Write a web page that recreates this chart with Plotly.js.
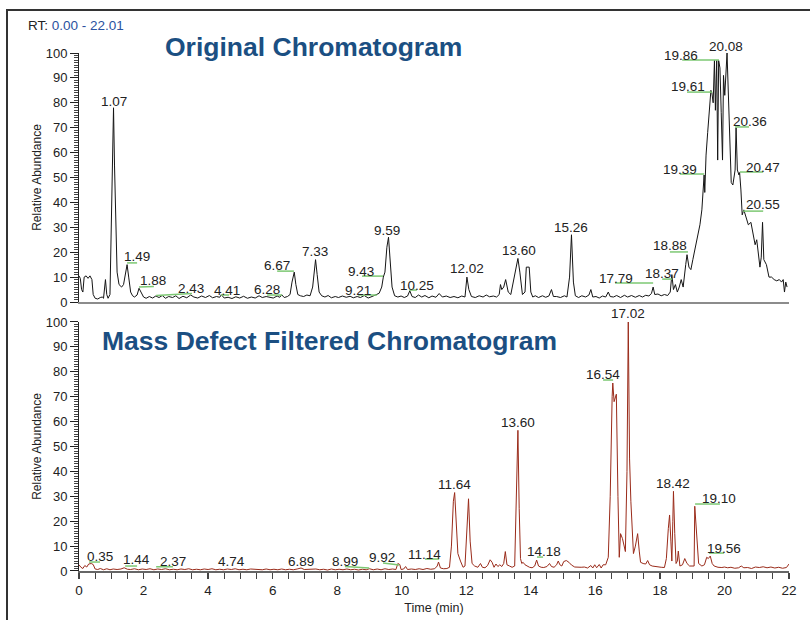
<!DOCTYPE html>
<html>
<head>
<meta charset="utf-8">
<script src="https://cdn.plot.ly/plotly-3.0.1.min.js"></script>
<style>html,body{margin:0;padding:0;background:#fff;}#chart{width:810px;height:620px;}</style>
</head>
<body>
<div id="chart"></div>
<script>
// ---------- Original chromatogram (time in min, relative abundance %) ----------
const origTime = [0.00,0.04,0.08,0.12,0.16,0.22,0.28,0.34,0.40,0.44,0.50,0.58,0.66,0.72,0.76,0.82,0.86,0.90,0.96,1.00,1.04,1.07,1.10,1.14,1.18,1.24,1.32,1.38,1.44,1.49,1.54,1.60,1.66,1.72,1.80,1.86,1.92,2.00,2.08,2.18,2.28,2.38,2.48,2.58,2.68,2.78,2.90,3.00,3.10,3.22,3.34,3.46,3.56,3.68,3.80,3.92,4.04,4.14,4.26,4.36,4.41,4.50,4.62,4.74,4.86,4.98,5.10,5.22,5.34,5.46,5.58,5.68,5.80,5.92,6.02,6.14,6.22,6.28,6.36,6.46,6.54,6.60,6.67,6.72,6.78,6.86,6.96,7.06,7.16,7.24,7.29,7.33,7.38,7.44,7.52,7.62,7.72,7.82,7.94,8.04,8.16,8.28,8.40,8.50,8.62,8.72,8.84,8.96,9.08,9.21,9.30,9.38,9.43,9.48,9.54,9.59,9.64,9.70,9.78,9.88,9.98,10.08,10.18,10.25,10.32,10.42,10.52,10.62,10.72,10.84,10.94,11.06,11.16,11.26,11.38,11.50,11.62,11.74,11.86,11.96,12.02,12.08,12.16,12.28,12.40,12.52,12.62,12.72,12.84,12.94,13.02,13.06,13.10,13.16,13.22,13.30,13.38,13.46,13.55,13.60,13.66,13.74,13.82,13.86,13.95,14.00,14.06,14.14,14.24,14.36,14.46,14.56,14.64,14.70,14.80,14.92,15.04,15.12,15.20,15.26,15.32,15.38,15.48,15.58,15.70,15.80,15.86,15.92,16.02,16.12,16.22,16.32,16.40,16.46,16.56,16.66,16.78,16.90,17.00,17.12,17.24,17.36,17.46,17.56,17.66,17.74,17.79,17.84,17.94,18.04,18.14,18.24,18.32,18.37,18.42,18.48,18.54,18.60,18.66,18.72,18.80,18.84,18.90,18.96,19.02,19.10,19.16,19.24,19.30,19.35,19.37,19.39,19.43,19.48,19.53,19.58,19.61,19.65,19.69,19.72,19.76,19.79,19.82,19.86,19.90,19.94,19.97,20.01,20.08,20.12,20.16,20.21,20.26,20.30,20.33,20.36,20.40,20.45,20.47,20.51,20.55,20.60,20.66,20.74,20.82,20.88,20.95,21.00,21.06,21.10,21.14,21.18,21.22,21.30,21.38,21.46,21.54,21.62,21.70,21.77,21.82,21.86,21.90,21.94];
const origAbund = [10.5,9.5,5,4,10,10.5,9.5,10.5,9,3,1.5,1.2,1.8,2,1.5,9,3,1.5,3,30,65,78,55,25,12,7,6,7,11,15,10,4,2.5,2,2.8,5.5,4,2,1.5,2.2,1.6,2.4,1.8,2.6,1.5,2.2,1.8,2.5,1.4,2.3,1.7,2.8,2,1.6,2.4,1.8,2.6,1.7,2.2,1.9,2.9,1.6,1.9,1.4,2.1,1.6,2.3,1.5,2,1.6,2.5,1.8,2.2,2,1.6,2.4,1.9,2.9,1.8,2.2,3,8,12,7,3,2.5,2.2,2.8,2.5,6,14,17,11,4,2.5,2,2.6,1.7,2.2,1.8,2.4,1.9,2.3,1.7,2.2,1.8,2.6,1.6,2.2,3,3.5,6,10,12,22,26,18,6,2.5,2,2.4,1.8,2.4,4.5,2.2,1.8,2.8,2,2.6,1.7,2.4,1.9,3.4,2,2.4,1.8,2.2,1.7,2.4,2,10,5,2.2,1.8,2.5,2,2.8,2.1,2.4,2,3,7,5,6,9,4,3,8,15,17.5,12,3,4,14,14,4,2,2.5,1.8,2.5,1.9,2.4,5,2.2,2.2,1.8,2.5,2,10,27,8,2.5,1.8,2.5,2,2.8,5,2,2.2,1.6,2.4,2,4,2.2,2,2.6,1.8,2.7,2,2.6,1.9,2.6,2,2.7,2.4,3.5,6,3,3.2,2.5,3,2.6,4,11,5,7,4,6,9,6,15,19,14,13,17,22,25,31,37,45,51,44,59,68,76,85,84,80,97,77,97,57,97,94,76,57,91,83,100,85,66,48,47,52,53,70,53,51,52,45,35,37,34,31,32,27,23,25,17,14,18,32,17,15,10,10,9,8.5,9,8,9,4,8,6];

// ---------- Mass defect filtered chromatogram ----------
const mdfTime = [0.00,0.06,0.12,0.18,0.24,0.30,0.38,0.44,0.50,0.58,0.66,0.76,0.86,0.96,1.06,1.18,1.30,1.40,1.50,1.60,1.72,1.84,1.96,2.08,2.20,2.32,2.44,2.56,2.68,2.80,2.92,3.04,3.16,3.28,3.40,3.52,3.64,3.76,3.88,4.00,4.12,4.24,4.36,4.48,4.60,4.72,4.84,4.96,5.08,5.20,5.32,5.44,5.56,5.68,5.80,5.92,6.04,6.16,6.28,6.40,6.52,6.64,6.76,6.88,6.98,7.10,7.22,7.34,7.46,7.58,7.70,7.82,7.94,8.06,8.18,8.30,8.42,8.54,8.66,8.78,8.90,9.00,9.12,9.24,9.36,9.48,9.60,9.72,9.82,9.88,9.94,9.98,10.06,10.12,10.18,10.30,10.42,10.54,10.66,10.78,10.90,11.02,11.10,11.14,11.20,11.30,11.40,11.48,11.54,11.60,11.64,11.68,11.74,11.82,11.90,11.96,12.02,12.07,12.12,12.18,12.26,12.36,12.44,12.50,12.58,12.66,12.74,12.80,12.86,12.92,12.98,13.04,13.10,13.16,13.21,13.26,13.34,13.42,13.50,13.56,13.60,13.64,13.68,13.72,13.76,13.82,13.88,13.96,14.04,14.12,14.18,14.24,14.32,14.40,14.50,14.58,14.64,14.72,14.80,14.85,14.90,14.96,15.02,15.10,15.18,15.26,15.36,15.46,15.56,15.66,15.76,15.86,15.92,15.98,16.04,16.12,16.18,16.24,16.32,16.40,16.46,16.52,16.54,16.58,16.65,16.70,16.74,16.78,16.84,16.93,16.98,17.02,17.06,17.10,17.14,17.18,17.24,17.31,17.36,17.40,17.48,17.56,17.62,17.68,17.76,17.84,17.94,18.04,18.14,18.20,18.26,18.30,18.34,18.37,18.40,18.42,18.46,18.50,18.54,18.57,18.62,18.70,18.77,18.84,18.92,19.00,19.06,19.08,19.14,19.20,19.30,19.38,19.45,19.50,19.56,19.62,19.68,19.80,19.92,20.00,20.10,20.20,20.32,20.44,20.52,20.60,20.72,20.84,20.96,21.08,21.20,21.32,21.44,21.56,21.68,21.80,21.92,22.00];
const mdfAbund = [2.5,1.5,1,2.2,1.6,2.8,3,2.6,0.8,0.6,1,0.5,0.9,0.5,0.8,0.6,0.8,1.3,0.7,0.6,0.9,0.5,0.8,0.6,0.9,0.5,0.8,0.6,0.9,0.5,0.7,0.5,0.8,0.6,0.9,0.5,0.7,0.5,0.8,0.6,0.9,0.5,0.7,0.5,0.8,0.6,0.9,0.5,0.7,0.5,0.8,0.6,0.7,0.5,0.8,0.5,0.7,0.5,0.8,0.5,0.7,0.5,0.8,1.2,0.6,0.7,0.5,0.8,0.5,0.7,0.4,0.8,0.5,0.7,0.5,0.8,0.5,0.7,0.4,0.7,0.5,0.9,0.5,0.8,0.5,0.9,0.6,0.8,0.6,3,2.6,0.6,0.8,1.8,0.6,0.8,0.6,0.9,0.6,1,0.7,0.9,2,3.6,1.2,0.9,1,1.5,10,28,31.5,20,7,4,1.5,2,15,29,12,3,2,1.5,3,1.5,1.3,2.2,4.5,3.5,1.5,2.8,1.8,2.5,1.8,3,7.8,2.5,2,1.5,2,30,56.5,25,5,3,3.5,2.5,2,1.5,1.3,2,4.4,2,1.5,1.4,1.8,3,1.8,1.5,2.5,4,2.5,2,3.8,4.2,3.5,2.4,1.6,1.4,1.5,1.6,1.2,2.2,1.2,2.5,1.3,2.6,1.2,2.5,2.5,5.5,30,70,75.5,68,71,30,5.5,15,13,7.8,40,100,45,28,15,7,10,15,8,3.5,3,2.8,4.2,2.5,2,1.8,1.6,1.5,1.4,5,17,22.5,12,4,20,32,15,3,4,8,2,2.5,5,3,2,2,2,26,12,3,2,2.5,5.5,5,6,3,2,1.5,1.4,1.6,1.3,1.5,1.1,1.3,2,1.3,1.4,1,1.6,1.4,1.7,1.3,1.6,1.2,1.5,1.1,1.4,2.8];

// ---------- Peak labels (text, label centre time, label centre level) ----------
const origLabels = ["1.07","1.49","1.88","2.43","4.41","6.28","6.67","7.33","9.21","9.43","9.59","10.25","12.02","13.60","15.26","17.79","18.37","18.88","19.39","19.61","19.86","20.08","20.36","20.47","20.55"];
const origLabelT = [1.08,1.80,2.29,3.47,4.59,5.83,6.14,7.31,8.65,8.74,9.54,10.47,12.02,13.63,15.25,16.64,18.07,18.31,18.62,18.87,18.66,20.05,20.79,21.20,21.20];
const origLabelV = [80.7,18.1,8.8,5.6,4.8,5.2,14.5,20.1,4.8,12.4,28.9,6.8,13.3,20.5,30.1,9.6,11.6,22.5,53.4,86.7,98.8,102.8,72.3,54.2,39.0];
const mdfLabels = ["0.35","1.44","2.37","4.74","6.89","8.99","9.92","11.14","11.64","13.60","14.18","16.54","17.02","18.42","19.10","19.56"];
const mdfLabelT = [0.65,1.77,2.91,4.74,6.88,8.24,9.39,10.69,11.65,13.60,14.41,16.24,17.01,18.41,19.83,19.99];
const mdfLabelV = [6.0,4.8,4.0,4.0,4.0,4.0,5.6,6.8,34.9,59.8,8.0,79.1,103.6,35.3,29.3,9.2];

// ---------- Green integration marks (start time, end time, start level, end level) ----------
const origMarkT1 = [1.49,1.86,2.39,4.40,5.83,6.14,8.77,8.65,10.23,16.61,18.07,18.31,18.62,18.84,18.69,20.33,20.48,20.58];
const origMarkT2 = [1.80,2.32,3.50,4.65,6.29,6.66,9.42,9.23,10.47,17.79,18.38,18.87,19.37,19.62,19.83,20.76,21.20,21.20];
const origMarkV1 = [15.7,6.0,2.6,2.8,2.8,12.4,10.4,2.8,4.8,7.6,9.2,20.1,51.4,84.3,97.2,70.3,52.2,36.5];
const origMarkV2 = [15.7,6.2,3.4,2.8,2.8,12.4,10.4,2.8,4.8,7.6,9.2,20.1,51.4,84.3,97.2,70.3,52.2,36.5];
const mdfMarkT1 = [0.31,1.43,2.39,8.24,9.42,10.72,14.19,16.24,19.09,19.52];
const mdfMarkT2 = [0.65,1.80,2.91,8.99,9.92,11.16,14.38,16.55,19.86,19.99];
const mdfMarkV1 = [3.6,2.0,1.7,1.8,3.2,4.8,5.6,76.7,26.9,7.2];
const mdfMarkV2 = [3.6,2.0,1.7,1.2,2.4,4.8,5.6,76.7,26.9,7.2];

const yTicks = [0,10,20,30,40,50,60,70,80,90,100];
const xTicks = [0,2,4,6,8,10,12,14,16,18,20,22];

// ---------- build ----------
const FONT = "Liberation Sans, Arial, Helvetica, sans-serif";
const TITLE_BLUE = "#1b4f82";
const GREEN = "#7dc873";

function segs(t1, t2, v1, v2) {
  const xs = [], ys = [];
  for (let i = 0; i < t1.length; i++) { xs.push(t1[i], t2[i], null); ys.push(v1[i], v2[i], null); }
  return {xs, ys};
}
const g1 = segs(origMarkT1, origMarkT2, origMarkV1, origMarkV2);
const g2 = segs(mdfMarkT1, mdfMarkT2, mdfMarkV1, mdfMarkV2);

const traces = [
  {x: origTime, y: origAbund, xaxis: 'x', yaxis: 'y', mode: 'lines', line: {color: '#151515', width: 1}, hoverinfo: 'skip'},
  {x: g1.xs, y: g1.ys, xaxis: 'x', yaxis: 'y', mode: 'lines', line: {color: GREEN, width: 1.5}, hoverinfo: 'skip', connectgaps: false},
  {x: mdfTime, y: mdfAbund, xaxis: 'x2', yaxis: 'y2', mode: 'lines', line: {color: '#9a2b1a', width: 1}, hoverinfo: 'skip'},
  {x: g2.xs, y: g2.ys, xaxis: 'x2', yaxis: 'y2', mode: 'lines', line: {color: GREEN, width: 1.5}, hoverinfo: 'skip', connectgaps: false}
];

const PLOT_H = 620 - 53 - 49;
const topDom = [0.5193, 1];
const botDom = [0, 0.4807];
const pxPerUnit = (topDom[1] - topDom[0]) * PLOT_H / 100;

const annotations = [];
function addLabels(txt, ts, vs, xr, yr) {
  for (let i = 0; i < txt.length; i++) {
    const over = vs[i] > 100 ? (vs[i] - 100) * pxPerUnit : 0;
    annotations.push({
      x: ts[i], y: Math.min(vs[i], 100), xref: xr, yref: yr, yshift: over,
      text: txt[i], showarrow: false, xanchor: 'center', yanchor: 'middle',
      font: {family: FONT, size: 13.5, color: '#222'}
    });
  }
}
addLabels(origLabels, origLabelT, origLabelV, 'x', 'y');
addLabels(mdfLabels, mdfLabelT, mdfLabelV, 'x2', 'y2');

annotations.push({
  xref: 'paper', yref: 'paper', x: (163 - 79) / 710, y: (571 - 47) / PLOT_H,
  xanchor: 'left', yanchor: 'middle', showarrow: false,
  text: '<b>Original Chromatogram</b>', font: {family: FONT, size: 26.5, color: TITLE_BLUE}
});
annotations.push({
  xref: 'paper', yref: 'paper', x: (100 - 79) / 710, y: (571 - 341) / PLOT_H,
  xanchor: 'left', yanchor: 'middle', showarrow: false,
  text: '<b>Mass Defect Filtered Chromatogram</b>', font: {family: FONT, size: 26.5, color: TITLE_BLUE}
});
annotations.push({
  xref: 'paper', yref: 'paper', x: (26 - 79) / 710, y: (571 - 26) / PLOT_H,
  xanchor: 'left', yanchor: 'middle', showarrow: false,
  text: 'RT: <span style="color:#2a52a0">0.00 - 22.01</span>', font: {family: FONT, size: 13.5, color: '#222'}
});

function yAxis(dom, anchor) {
  return {
    domain: dom, anchor: anchor, range: [0, 100], fixedrange: true,
    tickmode: 'array', tickvals: yTicks, ticks: 'outside', ticklen: 8, tickwidth: 1, tickcolor: '#222',
    minor: {dtick: 1, ticks: 'outside', ticklen: 4, tickwidth: 1, tickcolor: '#444', showgrid: false},
    showline: true, linecolor: '#222', linewidth: 1, showgrid: false, zeroline: false,
    tickfont: {family: FONT, size: 13, color: '#222'},
    title: {text: 'Relative Abundance', font: {family: FONT, size: 12, color: '#222'}, standoff: 1}
  };
}

const layout = {
  width: 810, height: 620,
  margin: {l: 79, r: 21, t: 53, b: 49},
  paper_bgcolor: '#fff', plot_bgcolor: '#fff',
  showlegend: false,
  font: {family: FONT, color: '#222'},
  xaxis: {
    domain: [0, 1], anchor: 'y', range: [0, 22], showticklabels: false, ticks: '',
    showline: true, linecolor: '#8c8c8c', linewidth: 2, showgrid: false, zeroline: false, fixedrange: true
  },
  yaxis: yAxis(topDom, 'x'),
  xaxis2: {
    domain: [0, 1], anchor: 'y2', range: [0, 22], fixedrange: true,
    tickmode: 'array', tickvals: xTicks, ticks: 'outside', ticklen: 6, tickwidth: 1.3, tickcolor: '#444',
    minor: {dtick: 0.5, ticks: 'outside', ticklen: 6, tickwidth: 1, tickcolor: '#444', showgrid: false},
    showline: true, linecolor: '#666', linewidth: 1.5, showgrid: false, zeroline: false,
    tickfont: {family: FONT, size: 13.5, color: '#222'},
    title: {text: 'Time (min)', font: {family: FONT, size: 12.5, color: '#222'}, standoff: 6}
  },
  yaxis2: yAxis(botDom, 'x2'),
  annotations: annotations,
  shapes: [{
    type: 'rect', xref: 'paper', yref: 'paper',
    x0: (7 - 79) / 710, x1: (830 - 79) / 710, y0: (571 - 640) / PLOT_H, y1: (571 - 10) / PLOT_H,
    line: {color: '#333', width: 2}, fillcolor: 'rgba(0,0,0,0)', layer: 'below'
  }]
};

Plotly.newPlot('chart', traces, layout, {staticPlot: true, displayModeBar: false});
</script>
</body>
</html>
